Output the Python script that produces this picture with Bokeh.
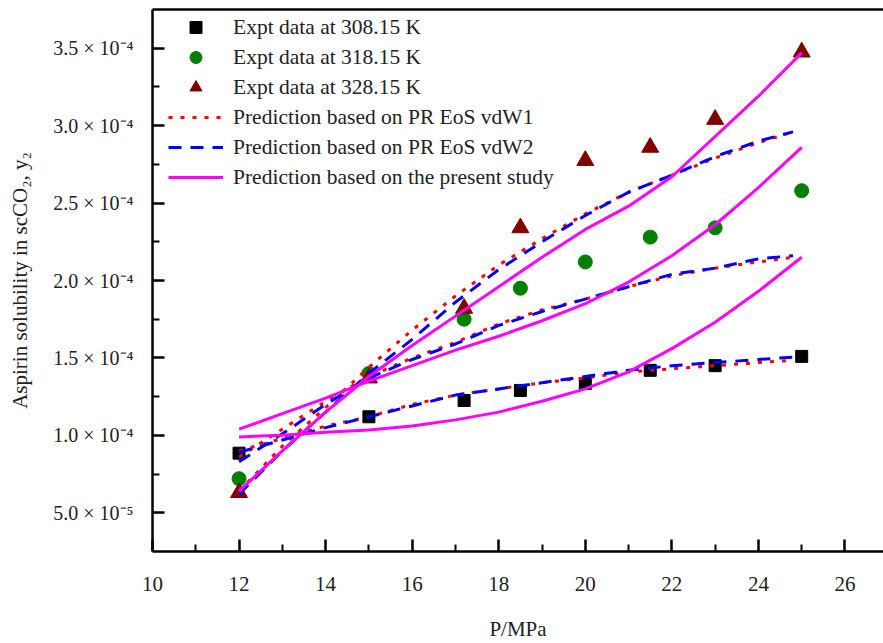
from bokeh.plotting import figure
from bokeh.models import (Range1d, LinearAxis, FixedTicker, CustomJSTickFormatter,
                          Legend, LegendItem)
from bokeh.embed import file_html
from bokeh.resources import INLINE

# ---------------- data ----------------
P_expt = [12, 15, 17.2, 18.5, 20, 21.5, 23, 25]
expt_308 = [0.885e-4, 1.12e-4, 1.225e-4, 1.29e-4, 1.335e-4, 1.42e-4, 1.45e-4, 1.51e-4]
expt_318 = [0.72e-4, 1.40e-4, 1.75e-4, 1.95e-4, 2.12e-4, 2.28e-4, 2.34e-4, 2.58e-4]
expt_328 = [0.63e-4, 1.37e-4, 1.82e-4, 2.34e-4, 2.775e-4, 2.86e-4, 3.04e-4, 3.475e-4]

P_eos = [12, 13, 14, 15, 16, 17, 18, 19, 20, 21, 22, 23, 24, 24.8]
vdw1_308 = [0.90e-4, 0.98e-4, 1.06e-4, 1.12e-4, 1.20e-4, 1.26e-4, 1.30e-4, 1.34e-4, 1.37e-4, 1.41e-4, 1.43e-4, 1.45e-4, 1.47e-4, 1.485e-4]
vdw2_308 = [0.89e-4, 0.97e-4, 1.05e-4, 1.12e-4, 1.19e-4, 1.26e-4, 1.30e-4, 1.34e-4, 1.38e-4, 1.42e-4, 1.45e-4, 1.47e-4, 1.49e-4, 1.505e-4]
vdw1_318 = [0.86e-4, 1.04e-4, 1.22e-4, 1.38e-4, 1.50e-4, 1.60e-4, 1.72e-4, 1.81e-4, 1.88e-4, 1.96e-4, 2.03e-4, 2.08e-4, 2.12e-4, 2.15e-4]
vdw2_318 = [0.83e-4, 1.01e-4, 1.20e-4, 1.37e-4, 1.49e-4, 1.59e-4, 1.71e-4, 1.80e-4, 1.88e-4, 1.96e-4, 2.04e-4, 2.08e-4, 2.14e-4, 2.16e-4]
vdw1_328 = [0.64e-4, 0.93e-4, 1.18e-4, 1.44e-4, 1.68e-4, 1.90e-4, 2.10e-4, 2.27e-4, 2.43e-4, 2.57e-4, 2.68e-4, 2.79e-4, 2.89e-4, 2.96e-4]
vdw2_328 = [0.62e-4, 0.90e-4, 1.15e-4, 1.40e-4, 1.62e-4, 1.86e-4, 2.07e-4, 2.25e-4, 2.42e-4, 2.57e-4, 2.68e-4, 2.80e-4, 2.90e-4, 2.96e-4]

P_model = [12, 13, 14, 15, 16, 17, 18, 19, 20, 21, 22, 23, 24, 25]
model_308 = [0.99e-4, 1.00e-4, 1.02e-4, 1.035e-4, 1.06e-4, 1.10e-4, 1.15e-4, 1.22e-4, 1.30e-4, 1.41e-4, 1.56e-4, 1.73e-4, 1.93e-4, 2.15e-4]
model_318 = [1.04e-4, 1.14e-4, 1.24e-4, 1.35e-4, 1.45e-4, 1.55e-4, 1.64e-4, 1.74e-4, 1.85e-4, 1.99e-4, 2.16e-4, 2.36e-4, 2.60e-4, 2.86e-4]
model_328 = [0.64e-4, 0.90e-4, 1.15e-4, 1.38e-4, 1.58e-4, 1.77e-4, 1.96e-4, 2.15e-4, 2.33e-4, 2.48e-4, 2.67e-4, 2.93e-4, 3.19e-4, 3.47e-4]

x_ticks = [10, 12, 14, 16, 18, 20, 22, 24, 26]
x_minor = [11, 13, 15, 17, 19, 21, 23, 25]
y_ticks = [0.5e-4, 1.0e-4, 1.5e-4, 2.0e-4, 2.5e-4, 3.0e-4, 3.5e-4]
y_minor = [0.75e-4, 1.25e-4, 1.75e-4, 2.25e-4, 2.75e-4, 3.25e-4]

legend_labels = ["Expt data at 308.15 K", "Expt data at 318.15 K", "Expt data at 328.15 K",
                 "Prediction based on PR EoS vdW1", "Prediction based on PR EoS vdW2",
                 "Prediction based on the present study"]

FONT = "Liberation Serif"
TXT = "#222222"

p = figure(width=883, height=643, x_range=Range1d(10, 26.89), y_range=Range1d(0.25e-4, 3.75e-4),
           output_backend="svg", toolbar_location=None,
           min_border_left=152, min_border_right=0, min_border_top=9, min_border_bottom=91)
p.grid.visible = False
p.outline_line_color = None
p.background_fill_color = "white"
p.border_fill_color = "white"

# markers (drawn first so lines overlay them)
r_sq = p.scatter(P_expt, expt_308, marker="square", size=12, color="black")
r_ci = p.scatter(P_expt, expt_318, marker="circle", size=14, color="#008000")
r_tr = p.scatter(P_expt, expt_328, marker="triangle", size=17, color="#800000")

LW = 3
red_kw = dict(line_color="#ff0000", line_width=LW, line_dash="4 8")
blue_kw = dict(line_color="#0000ff", line_width=LW, line_dash="13 9")
mag_kw = dict(line_color="#ff00ff", line_width=3)

r_red = [p.line(P_eos, ys, **red_kw) for ys in (vdw1_308, vdw1_318, vdw1_328)]
r_blue = [p.line(P_eos, ys, **blue_kw) for ys in (vdw2_308, vdw2_318, vdw2_328)]
r_mag = [p.line(P_model, ys, **mag_kw) for ys in (model_308, model_318, model_328)]

# axes
xa = p.xaxis[0]
xa.ticker = FixedTicker(ticks=x_ticks, minor_ticks=x_minor)
xa.axis_label = "P/MPa"
ya = p.yaxis[0]
ya.ticker = FixedTicker(ticks=y_ticks, minor_ticks=y_minor)
ya.formatter = CustomJSTickFormatter(code="""
    if (Math.abs(tick - 0.5e-4) < 1e-9) { return "5.0 \u00d7 10\u207b\u2075"; }
    return (tick / 1e-4).toFixed(1) + " \u00d7 10\u207b\u2074";
""")
ya.axis_label = "Aspirin solubility in scCO\u2082, y\u2082"

for ax in (xa, ya):
    ax.axis_line_width = 2.5
    ax.axis_line_color = "black"
    ax.major_tick_in = 12
    ax.major_tick_out = 0
    ax.minor_tick_in = 7
    ax.minor_tick_out = 0
    ax.major_tick_line_width = 2.5
    ax.minor_tick_line_width = 2
    ax.major_label_text_font = FONT
    ax.major_label_text_color = TXT
    ax.axis_label_text_font = FONT
    ax.axis_label_text_font_style = "normal"
    ax.axis_label_text_color = TXT
    ax.axis_label_text_font_size = "21px"

xa.major_label_text_font_size = "21px"
xa.major_label_standoff = 25
xa.axis_label_standoff = 23
ya.major_label_text_font_size = "20px"
ya.major_label_standoff = 19
ya.axis_label_standoff = 18

top = LinearAxis(ticker=FixedTicker(ticks=[]), major_label_text_font_size="0px",
                 axis_line_width=2.5, major_tick_in=0, major_tick_out=0,
                 minor_tick_in=0, minor_tick_out=0, major_label_standoff=0)
p.add_layout(top, "above")

legend = Legend(items=[
    LegendItem(label=legend_labels[0], renderers=[r_sq]),
    LegendItem(label=legend_labels[1], renderers=[r_ci]),
    LegendItem(label=legend_labels[2], renderers=[r_tr]),
    LegendItem(label=legend_labels[3], renderers=[r_red[0]]),
    LegendItem(label=legend_labels[4], renderers=[r_blue[0]]),
    LegendItem(label=legend_labels[5], renderers=[r_mag[0]]),
], location=(16, 359), border_line_color=None, background_fill_alpha=0,
    padding=2, margin=0, spacing=0, label_height=30, glyph_height=30, glyph_width=55,
    label_standoff=10, label_text_font=FONT, label_text_font_size="21.5px",
    label_text_color=TXT)
p.add_layout(legend)

open("out.html", "w").write(file_html(p, INLINE))
